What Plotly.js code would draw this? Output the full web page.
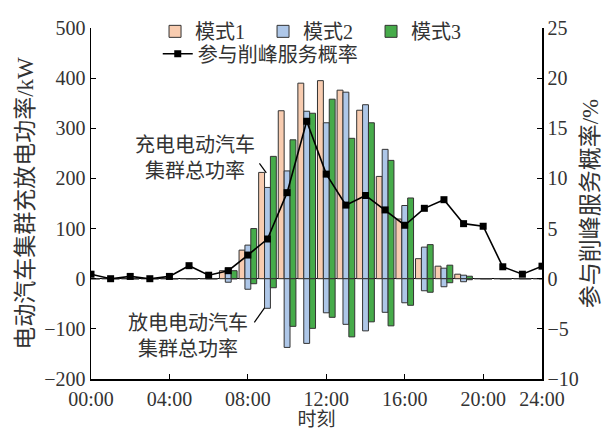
<!DOCTYPE html>
<html>
<head>
<meta charset="utf-8">
<script src="https://cdn.plot.ly/plotly-3.0.1.min.js"></script>
<style>html,body{margin:0;padding:0;background:#fff;}#chart{width:612px;height:430px;}</style>
</head>
<body>
<div id="chart"></div>
<script>
// Hours 0..23
const hours = [0,1,2,3,4,5,6,7,8,9,10,11,12,13,14,15,16,17,18,19,20,21,22,23];
const tickVals = [0,4,8,12,16,20,23];
const tickText = ['00:00','04:00','08:00','12:00','16:00','20:00','24:00'];
// charging power (kW)
const mode1Charge = [0,0,0,0,0,0,0,16,57,212,335,390,395,376,336,204,119,40,25,9,0,0,0,0];
const mode2Charge = [0,0,0,0,0,0,0,21,67,182,215,334,311,372,347,258,146,63,21,7,0,0,0,0];
const mode3Charge = [0,0,0,0,0,0,0,16,100,244,277,330,358,280,311,236,161,68,27,5,0,0,0,0];
// discharging power (kW)
const mode2Discharge = [0,0,0,0,0,0,0,-7,-21,-59,-137,-129,-68,-91,-104,-67,-48,-24,-16,-6,0,0,0,0];
const mode3Discharge = [0,0,0,0,0,0,0,0,-10,-18,-95,-99,-77,-116,-86,-94,-53,-27,-8,-2,0,0,0,0];
// probability of participating in peak shaving (%)
const probability = [0.45,0,0.23,0,0.23,1.3,0.35,0.8,2.36,3.96,8.58,15.7,10.43,7.34,8.3,6.86,5.33,7.02,7.88,5.49,5.23,1.19,0.45,1.25];

const names = ['模式1','模式2','模式3'];
const colors = ['#F8CCB0','#AEC7E8','#46AB4A'];
const offsets = [-0.45,-0.15,0.15];
const barW = 0.3;
const outline = {color:'#333', width:1};

const FONT = 'Liberation Serif, Noto Sans CJK SC, serif';
const traces = [];
[mode1Charge, mode2Charge, mode3Charge].forEach((arr,i)=>{
  traces.push({type:'bar', x:hours, y:arr, name:names[i], width:barW, offset:offsets[i],
    marker:{color:colors[i], line:outline}, legend:'legend', xaxis:'x', yaxis:'y'});
});
[[mode2Discharge,1],[mode3Discharge,2]].forEach(([arr,i])=>{
  traces.push({type:'bar', x:hours, y:arr, name:names[i], width:barW, offset:offsets[i],
    marker:{color:colors[i], line:outline}, showlegend:false, xaxis:'x', yaxis:'y'});
});
traces.push({type:'scatter', mode:'lines+markers', x:hours, y:probability, name:'参与削峰服务概率',
  line:{color:'#000', width:1.6}, marker:{symbol:'square', size:7, color:'#000'},
  xaxis:'x', yaxis:'y2', legend:'legend2'});

const layout = {
  width:612, height:430,
  margin:{l:91, r:70, t:16, b:51},
  paper_bgcolor:'#fff', plot_bgcolor:'#fff',
  font:{family:FONT, size:20, color:'#333'},
  barmode:'overlay',
  showlegend:true,
  xaxis:{range:[0,23], tickvals:tickVals, ticktext:tickText, ticks:'inside', ticklen:5,
    tickcolor:'#000', showline:true, linecolor:'#000', linewidth:1.5, showgrid:false, zeroline:false,
    ticklabelstandoff:1,
    tickfont:{family:FONT, size:20, color:'#333'},
    title:{text:'时刻', font:{family:FONT, size:19, color:'#333'}, standoff:6}},
  yaxis:{range:[-200,500], dtick:100, ticks:'inside', ticklen:5, tickcolor:'#000',
    showline:true, linecolor:'#000', linewidth:1.5, showgrid:false,
    zeroline:true, zerolinecolor:'#000', zerolinewidth:1.5,
    tickfont:{family:FONT, size:20, color:'#333'},
    title:{text:'电动汽车集群充放电功率/kW', font:{family:FONT, size:23, color:'#333'}, standoff:4}},
  yaxis2:{range:[-10,25], dtick:5, overlaying:'y', side:'right', ticks:'inside', ticklen:5,
    tickcolor:'#000', showline:true, linecolor:'#000', linewidth:1.5, showgrid:false, zeroline:false,
    tickfont:{family:FONT, size:20, color:'#333'},
    title:{text:'参与削峰服务概率/%', font:{family:FONT, size:23, color:'#333'}, standoff:4}},
  legend:{orientation:'h', x:0.142, y:1.046, xanchor:'left', yanchor:'top', bgcolor:'rgba(0,0,0,0)',
    font:{family:FONT, size:20, color:'#333'}, traceorder:'normal', tracegroupgap:0, entrywidth:63},
  legend2:{orientation:'h', x:0.148, y:0.982, xanchor:'left', yanchor:'top', bgcolor:'rgba(0,0,0,0)',
    font:{family:FONT, size:20, color:'#333'}},
  annotations:[
    {xref:'x', yref:'y', x:5.3, y:241, text:'充电电动汽车<br>集群总功率', showarrow:false,
      font:{family:FONT, size:20, color:'#333'}, align:'center'},
    {xref:'x', yref:'y', x:4.95, y:-115, text:'放电电动汽车<br>集群总功率', showarrow:false,
      font:{family:FONT, size:20, color:'#333'}, align:'center'}
  ],
  shapes:[
    {type:'line', xref:'x', yref:'y', x0:8.59, y0:230, x1:8.94, y1:211, line:{color:'#000', width:1.2}},
    {type:'line', xref:'x', yref:'y', x0:8.33, y0:-87, x1:8.85, y1:-58, line:{color:'#000', width:1.2}}
  ]
};

Plotly.newPlot('chart', traces, layout, {staticPlot:true, displayModeBar:false});
</script>
</body>
</html>
